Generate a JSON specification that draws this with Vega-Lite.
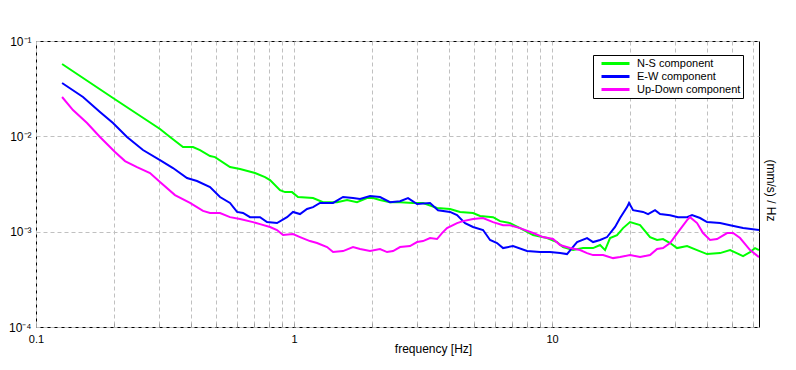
{
"$schema": "https://vega.github.io/schema/vega-lite/v6.json",
"width": 723, "height": 286,
"autosize": {"type": "none"},
"padding": {"left": 36, "top": 41, "right": 37, "bottom": 43},
"background": "white",
"config": {
  "view": {"stroke": "black", "strokeWidth": 1},
  "font": "Liberation Sans",
  "axis": {"domain": false, "labelColor": "black", "labelFontSize": 11, "titleFontSize": 12, "titleFontWeight": "normal", "titleColor": "black", "gridColor": "#c0c0c0", "gridDash": [4, 3], "gridWidth": 1}
},
"datasets": {
 "ns": [
  {"f":0.1262,"v":0.05737},{"f":0.1988,"v":0.02523},{"f":0.3024,"v":0.01193},{"f":0.3307,"v":0.00983},{"f":0.3713,"v":0.00772},{"f":0.406,"v":0.00772},{"f":0.4322,"v":0.00718},{"f":0.4726,"v":0.00621},{"f":0.4941,"v":0.00606},{"f":0.5648,"v":0.00476},{"f":0.6177,"v":0.00454},{"f":0.7061,"v":0.00412},{"f":0.772,"v":0.00374},{"f":0.8072,"v":0.00348},{"f":0.8825,"v":0.00273},{"f":0.9229,"v":0.0026},{"f":0.9822,"v":0.0026},{"f":1.036,"v":0.00231},{"f":1.185,"v":0.00225},{"f":1.296,"v":0.00204},{"f":1.468,"v":0.00204},{"f":1.605,"v":0.00215},{"f":1.754,"v":0.00204},{"f":1.918,"v":0.00225},{"f":2.025,"v":0.00225},{"f":2.154,"v":0.00215},{"f":2.356,"v":0.00204},{"f":2.576,"v":0.00204},{"f":2.893,"v":0.002},{"f":3.162,"v":0.002},{"f":3.583,"v":0.00177},{"f":4.024,"v":0.00173},{"f":4.4,"v":0.00161},{"f":4.941,"v":0.00157},{"f":5.26,"v":0.00146},{"f":5.907,"v":0.00142},{"f":6.287,"v":0.00129},{"f":6.875,"v":0.00123},{"f":7.516,"v":0.00109},{"f":8.441,"v":0.000921},{"f":9.563,"v":0.000857},{"f":10.45,"v":0.000778},{"f":11.03,"v":0.000689},{"f":12.06,"v":0.000641},{"f":13.19,"v":0.000673},{"f":14.42,"v":0.000673},{"f":15.35,"v":0.000724},{"f":16.05,"v":0.000641},{"f":16.78,"v":0.000857},{"f":17.86,"v":0.000921},{"f":18.85,"v":0.00109},{"f":20.06,"v":0.00126},{"f":21.94,"v":0.00117},{"f":23.98,"v":0.000878},{"f":25.53,"v":0.000817},{"f":26.93,"v":0.000837},{"f":28.67,"v":0.00076},{"f":30.51,"v":0.000673},{"f":33.37,"v":0.000706},{"f":36.48,"v":0.000641},{"f":39.88,"v":0.000582},{"f":44.79,"v":0.000596},{"f":48.98,"v":0.000641},{"f":55.0,"v":0.000555},{"f":58.54,"v":0.000611},{"f":61.21,"v":0.000673},{"f":63.4,"v":0.000641}
 ],
 "ew": [
  {"f":0.1262,"v":0.03624},{"f":0.1521,"v":0.02585},{"f":0.177,"v":0.01799},{"f":0.1988,"v":0.01379},{"f":0.2253,"v":0.00983},{"f":0.2598,"v":0.00718},{"f":0.3024,"v":0.00564},{"f":0.3396,"v":0.00465},{"f":0.3848,"v":0.00365},{"f":0.4207,"v":0.0034},{"f":0.4726,"v":0.00294},{"f":0.5166,"v":0.00231},{"f":0.5648,"v":0.002},{"f":0.6014,"v":0.00161},{"f":0.6344,"v":0.00157},{"f":0.6753,"v":0.00142},{"f":0.7383,"v":0.00142},{"f":0.7859,"v":0.00126},{"f":0.8592,"v":0.00123},{"f":0.9395,"v":0.00142},{"f":0.991,"v":0.00161},{"f":1.055,"v":0.00153},{"f":1.123,"v":0.00173},{"f":1.185,"v":0.00181},{"f":1.261,"v":0.002},{"f":1.417,"v":0.002},{"f":1.549,"v":0.00231},{"f":1.693,"v":0.00225},{"f":1.803,"v":0.0022},{"f":1.971,"v":0.00236},{"f":2.154,"v":0.00231},{"f":2.356,"v":0.00204},{"f":2.576,"v":0.00209},{"f":2.766,"v":0.00225},{"f":2.998,"v":0.00195},{"f":3.366,"v":0.002},{"f":3.615,"v":0.00168},{"f":4.024,"v":0.00161},{"f":4.284,"v":0.00149},{"f":4.601,"v":0.00123},{"f":4.941,"v":0.00112},{"f":5.403,"v":0.00104},{"f":5.751,"v":0.000817},{"f":6.121,"v":0.00076},{"f":6.458,"v":0.000673},{"f":7.061,"v":0.000706},{"f":8.0,"v":0.000626},{"f":8.985,"v":0.000611},{"f":9.822,"v":0.000611},{"f":10.74,"v":0.000596},{"f":11.43,"v":0.000582},{"f":11.95,"v":0.000673},{"f":12.5,"v":0.000778},{"f":13.67,"v":0.000857},{"f":14.42,"v":0.000778},{"f":15.35,"v":0.000817},{"f":16.34,"v":0.000878},{"f":17.55,"v":0.00112},{"f":18.35,"v":0.00139},{"f":19.53,"v":0.00181},{"f":19.88,"v":0.002},{"f":20.61,"v":0.00168},{"f":22.53,"v":0.00161},{"f":23.56,"v":0.00153},{"f":25.07,"v":0.00168},{"f":26.22,"v":0.00153},{"f":28.67,"v":0.00149},{"f":30.79,"v":0.00142},{"f":33.37,"v":0.00142},{"f":34.88,"v":0.00149},{"f":37.46,"v":0.00139},{"f":39.88,"v":0.00126},{"f":44.79,"v":0.00123},{"f":48.98,"v":0.00117},{"f":55.0,"v":0.00109},{"f":63.4,"v":0.00104}
 ],
 "ud": [
  {"f":0.1262,"v":0.02585},{"f":0.1391,"v":0.01888},{"f":0.1577,"v":0.01379},{"f":0.177,"v":0.00983},{"f":0.2024,"v":0.00684},{"f":0.2213,"v":0.0055},{"f":0.2463,"v":0.00476},{"f":0.2766,"v":0.00412},{"f":0.3024,"v":0.00331},{"f":0.3457,"v":0.00242},{"f":0.3953,"v":0.002},{"f":0.4439,"v":0.00165},{"f":0.4726,"v":0.00157},{"f":0.5166,"v":0.00157},{"f":0.5648,"v":0.00142},{"f":0.6177,"v":0.00136},{"f":0.6936,"v":0.00126},{"f":0.7383,"v":0.0012},{"f":0.8072,"v":0.00112},{"f":0.8592,"v":0.00104},{"f":0.9066,"v":0.000921},{"f":0.991,"v":0.000944},{"f":1.055,"v":0.000878},{"f":1.153,"v":0.000797},{"f":1.228,"v":0.00076},{"f":1.343,"v":0.000689},{"f":1.417,"v":0.000611},{"f":1.549,"v":0.000626},{"f":1.693,"v":0.000689},{"f":1.803,"v":0.000657},{"f":1.971,"v":0.000626},{"f":2.154,"v":0.000657},{"f":2.294,"v":0.000611},{"f":2.42,"v":0.000626},{"f":2.576,"v":0.000689},{"f":2.815,"v":0.000706},{"f":2.998,"v":0.000778},{"f":3.162,"v":0.000797},{"f":3.366,"v":0.000857},{"f":3.583,"v":0.000837},{"f":3.746,"v":0.000967},{"f":3.917,"v":0.00109},{"f":4.284,"v":0.00123},{"f":4.519,"v":0.00129},{"f":4.941,"v":0.00136},{"f":5.403,"v":0.00139},{"f":5.907,"v":0.00126},{"f":6.458,"v":0.00117},{"f":6.875,"v":0.00117},{"f":7.516,"v":0.00109},{"f":8.441,"v":0.000967},{"f":9.229,"v":0.000878},{"f":10.09,"v":0.000837},{"f":10.74,"v":0.000724},{"f":11.74,"v":0.000673},{"f":12.84,"v":0.000641},{"f":13.67,"v":0.000596},{"f":14.42,"v":0.000568},{"f":15.77,"v":0.000568},{"f":17.24,"v":0.000528},{"f":18.35,"v":0.000541},{"f":20.06,"v":0.000568},{"f":21.94,"v":0.000541},{"f":23.98,"v":0.000568},{"f":25.53,"v":0.000657},{"f":26.93,"v":0.000673},{"f":28.67,"v":0.00076},{"f":30.79,"v":0.00099},{"f":33.37,"v":0.00132},{"f":34.26,"v":0.00142},{"f":36.48,"v":0.00123},{"f":38.48,"v":0.000967},{"f":40.96,"v":0.000817},{"f":43.6,"v":0.000837},{"f":47.69,"v":0.000967},{"f":50.31,"v":0.000967},{"f":53.55,"v":0.000857},{"f":58.54,"v":0.000641},{"f":63.4,"v":0.000541}
 ]
},
"encoding": {
  "x": {"field": "f", "type": "quantitative",
    "scale": {"type": "log", "domain": [0.1, 63.4], "nice": false},
    "axis": {"values": [0.1,0.2,0.3,0.4,0.5,0.6,0.7,0.8,0.9,1,2,3,4,5,6,7,8,9,10,20,30,40,50,60],
      "labelExpr": "datum.value == 0.1 ? '0.1' : datum.value == 1 ? '1' : datum.value == 10 ? '10' : ''",
      "labelOverlap": false, "labelFlush": false, "ticks": true, "tickSize": -4, "tickColor": "#a0a0a0", "labelPadding": 10,
      "title": "frequency [Hz]", "titleX": 397, "titleY": 21, "titleBaseline": "middle", "titleAlign": "center"}},
  "y": {"field": "v", "type": "quantitative",
    "scale": {"type": "log", "domain": [0.0001, 0.1], "nice": false},
    "axis": {"values": [0.1, 0.01, 0.001, 0.0001],
      "labelExpr": "datum.value > 0.05 ? '10⁻¹' : datum.value > 0.005 ? '10⁻²' : datum.value > 0.0005 ? '10⁻³' : '10⁻⁴'",
      "ticks": false, "labelPadding": 5, "labelOverlap": false, "labelFlush": false, "labelFontSize": 12,
      "title": "(mm/s)  / Hz", "titleAngle": 90, "titleX": 734, "titleY": 149, "titleAlign": "center", "titleBaseline": "middle"}},
  "color": {"type": "nominal",
    "scale": {"domain": ["N-S component", "E-W component", "Up-Down component"], "range": ["#00ff00", "#0000ff", "#ff00ff"]},
    "legend": {"title": null, "orient": "none", "legendX": 557, "legendY": 14, "direction": "vertical",
      "strokeColor": "black", "fillColor": "white", "padding": 2, "symbolOffset": 5,
      "symbolType": "stroke", "symbolStrokeWidth": 3, "symbolSize": 784, "clipHeight": 13, "rowPadding": 0,
      "labelFontSize": 11, "labelColor": "black", "labelOffset": 6, "labelLimit": 200}}
},
"layer": [
  {"data": {"name": "ns"}, "mark": {"type": "line", "strokeWidth": 2, "clip": true}, "encoding": {"color": {"datum": "N-S component", "type": "nominal"}}},
  {"data": {"name": "ew"}, "mark": {"type": "line", "strokeWidth": 2, "clip": true}, "encoding": {"color": {"datum": "E-W component", "type": "nominal"}}},
  {"data": {"name": "ud"}, "mark": {"type": "line", "strokeWidth": 2, "clip": true}, "encoding": {"color": {"datum": "Up-Down component", "type": "nominal"}}}
]
}
